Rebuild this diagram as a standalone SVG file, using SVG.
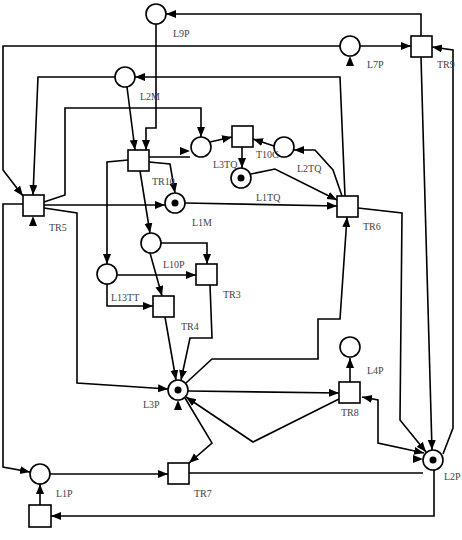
<svg xmlns="http://www.w3.org/2000/svg" width="462" height="540" viewBox="0 0 462 540">
<style>
.p{fill:#fff;stroke:#000;stroke-width:1.6}
.t{fill:#fff;stroke:#000;stroke-width:1.6}
.k{fill:#000}
.c{fill:none;stroke:#000;stroke-width:1.6;marker-end:url(#ah)}
.n{fill:none;stroke:#000;stroke-width:1.6}
.d{fill:#000}
text{font-family:"Liberation Serif","Times New Roman",serif;font-size:10px;fill:#444}
</style>
<defs>
<marker id="ah" markerUnits="userSpaceOnUse" markerWidth="11" markerHeight="9" refX="10" refY="4" orient="auto-start-reverse"><path d="M0,0 L10,4 L0,8 z" fill="#000"/></marker>
</defs>
<rect width="462" height="540" fill="#fff"/>
<g id="connectors">
<path class="c" d="M156,24 V128 H146 V150"/>
<path class="c" d="M127,87 L135,150"/>
<path class="c" d="M421,36 V14 H166"/>
<path class="c" d="M340,46 H3 V170 L23,196"/>
<path class="c" d="M360,46 H411"/>
<path class="c" d="M345,196 L340,77 H135"/>
<path class="c" d="M115,77 H38 L33,195"/>
<path class="c" d="M44,202 L65,195 V108 H201 V137"/>
<path class="c" d="M210,142 L232,137"/>
<path class="n" d="M149,157 H190"/>
<polygon class="d" points="180,147 190,151 180,155"/>
<path class="c" d="M274,146 L253,139"/>
<path class="c" d="M342,196 L333,170 L315,150 H294"/>
<path class="c" d="M242,147 V168"/>
<path class="c" d="M251,174 L275,169 L337,200"/>
<path class="c" d="M185,203 L337,206"/>
<path class="c" d="M44,205 H165"/>
<path class="c" d="M149,162 L170,164 L175,193"/>
<path class="c" d="M128,160 L107,162 V264"/>
<path class="c" d="M140,171 L150,233"/>
<path class="c" d="M150,253 L162,296"/>
<path class="c" d="M161,243 H207 V264"/>
<path class="c" d="M117,275 H196"/>
<path class="c" d="M107,284 V306 H153"/>
<path class="c" d="M165,317 L176,380"/>
<path class="c" d="M210,285 L212,338 H190 L181,380"/>
<path class="c" d="M44,208 L77,213 V383 L168,389"/>
<path class="c" d="M23,204 H3 V467 L30,472"/>
<path class="c" d="M50,474 H168"/>
<path class="c" d="M40,505 V484"/>
<path class="c" d="M434,470 V516 H51"/>
<path class="n" d="M189,473 H423"/>
<polygon class="d" points="413,455 423,459 413,463"/>
<path class="c" d="M185,398 L212,443 L189,463"/>
<path class="c" d="M339,399 L253,442 L186,397"/>
<path class="c" d="M188,391 L339,393"/>
<path class="c" d="M186,383 L212,359 H318 V319 H340 L347,217"/>
<path class="c" d="M358,208 L402,213 L400,420 L426,452"/>
<path class="c" d="M421,57 L432,450"/>
<path class="c" d="M443,454 L453,428 L453,50 L432,47"/>
<path class="c" d="M362,397 L378,400 L378,443 L424,453" marker-start="url(#ah)"/>
<path class="c" d="M350,382 V358"/>
<polygon class="d" points="346,66 350,56 354,66"/>
<polygon class="d" points="29,226 33,216 37,226"/>
<polygon class="d" points="174,410 178,400 182,410"/>
</g>
<g id="L9P"><circle class="p" cx="156" cy="14" r="10"/><text x="173" y="37">L9P</text></g>
<g id="L7P"><circle class="p" cx="350" cy="46" r="10"/><text x="367" y="68">L7P</text></g>
<g id="L2M"><circle class="p" cx="125" cy="77" r="10"/><text x="140" y="100">L2M</text></g>
<g id="P1"><circle class="p" cx="201" cy="147" r="10"/></g>
<g id="T10C"><circle class="p" cx="284" cy="147" r="10"/><text x="256" y="158">T10C</text></g>
<g id="L3TQ"><circle class="p" cx="241" cy="178" r="10"/><circle class="k" cx="241" cy="178" r="3.5"/><text x="213" y="168">L3TQ</text></g>
<g id="L2TQ"><text x="297" y="172">L2TQ</text></g>
<g id="L1M"><circle class="p" cx="175" cy="203" r="10"/><circle class="k" cx="175" cy="203" r="3.5"/><text x="192" y="226">L1M</text></g>
<g id="L1TQ"><text x="256" y="201">L1TQ</text></g>
<g id="L10P"><circle class="p" cx="151" cy="243" r="10"/><text x="163" y="268">L10P</text></g>
<g id="L13TT"><circle class="p" cx="107" cy="274" r="10"/><text x="111" y="301">L13TT</text></g>
<g id="L3P"><circle class="p" cx="178" cy="390" r="10"/><circle class="k" cx="178" cy="390" r="3.5"/><text x="143" y="408">L3P</text></g>
<g id="L4P"><circle class="p" cx="350" cy="347" r="10"/><text x="367" y="374">L4P</text></g>
<g id="L2P"><circle class="p" cx="433" cy="460" r="10"/><circle class="k" cx="433" cy="460" r="3.5"/><text x="444" y="480">L2P</text></g>
<g id="L1P"><circle class="p" cx="40" cy="474" r="10"/><text x="56" y="497">L1P</text></g>
<g id="TR9"><rect class="t" x="411" y="36" width="21" height="21"/><text x="437" y="68">TR9</text></g>
<g id="TR10"><rect class="t" x="128" y="150" width="21" height="21"/><text x="152" y="185">TR10</text></g>
<g id="T3TQ"><rect class="t" x="232" y="126" width="21" height="21"/></g>
<g id="TR5"><rect class="t" x="23" y="195" width="21" height="21"/><text x="49" y="231">TR5</text></g>
<g id="TR6"><rect class="t" x="337" y="196" width="21" height="21"/><text x="363" y="230">TR6</text></g>
<g id="TR3"><rect class="t" x="196" y="264" width="21" height="21"/><text x="223" y="298">TR3</text></g>
<g id="TR4"><rect class="t" x="153" y="296" width="21" height="21"/><text x="181" y="330">TR4</text></g>
<g id="TR8"><rect class="t" x="339" y="382" width="21" height="21"/><text x="341" y="416">TR8</text></g>
<g id="TR7"><rect class="t" x="168" y="463" width="21" height="21"/><text x="194" y="497">TR7</text></g>
<g id="TB"><rect class="t" x="29" y="505" width="22" height="22"/></g>
</svg>
